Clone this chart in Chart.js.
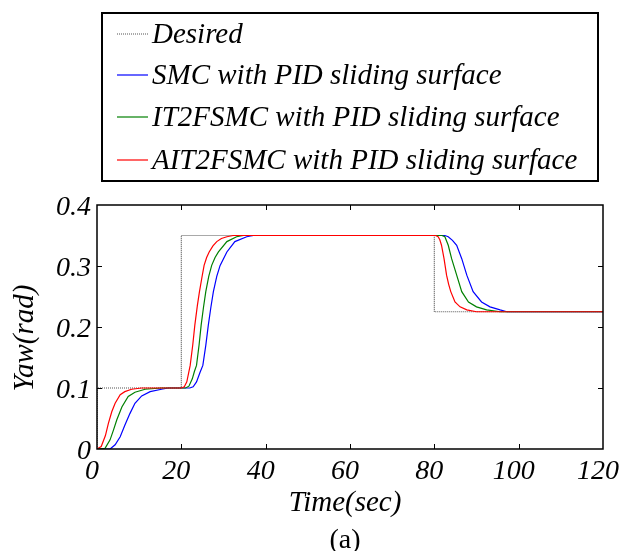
<!DOCTYPE html>
<html>
<head>
<meta charset="utf-8">
<script src="https://cdn.jsdelivr.net/npm/chart.js@4"></script>
<style>
  html, body { margin: 0; padding: 0; background: #fff; }
  #wrap { width: 620px; height: 551px; }
</style>
</head>
<body>
<div id="wrap"><canvas id="yawChart" width="620" height="551"></canvas></div>
<script>
// series, [time (sec), yaw (rad)]
const desired = [[0, 0], [0, 0.1], [20, 0.1], [20, 0.35], [80, 0.35], [80, 0.225], [120, 0.225]]

const smc = [
  [0, 0], [3.1, 0], [4.3, 0.007], [5.5, 0.02], [6.6, 0.039], [7.8, 0.058], [9, 0.075], [10.6, 0.087],
  [12.6, 0.094], [15.3, 0.098], [16.9, 0.1], [22, 0.1], [22.8, 0.102], [23.6, 0.11], [24.4, 0.125],
  [25.1, 0.137], [25.8, 0.17], [26.4, 0.203], [27, 0.232], [27.6, 0.258], [28.4, 0.283], [29.2, 0.301],
  [30.8, 0.323], [32.7, 0.34], [35.5, 0.348], [37.1, 0.35], [82.5, 0.35], [83.3, 0.348], [84.3, 0.342],
  [85.3, 0.334], [86.5, 0.312], [87.7, 0.285], [89.2, 0.258], [91.2, 0.241], [93.2, 0.233], [95.6, 0.228],
  [97.2, 0.225], [120, 0.225]
]

const it2fsmc = [
  [0, 0], [1.9, 0.001], [3.1, 0.015], [3.9, 0.031], [4.7, 0.048], [5.9, 0.069], [7.4, 0.086], [9, 0.093],
  [11.4, 0.098], [15.3, 0.1], [21, 0.1], [21.8, 0.103], [22.6, 0.115], [23.1, 0.127], [23.6, 0.137],
  [24.2, 0.17], [24.7, 0.203], [25.25, 0.232], [25.8, 0.258], [26.5, 0.283], [27.2, 0.301], [28, 0.314],
  [28.8, 0.323], [30.8, 0.34], [33.1, 0.348], [34.7, 0.35], [81.8, 0.35], [82.5, 0.348], [83.3, 0.334],
  [84.1, 0.312], [85.3, 0.285], [86.5, 0.258], [88.1, 0.241], [90, 0.233], [92.4, 0.228], [95.6, 0.225],
  [120, 0.225]
]

const ait2fsmc = [
  [0, 0], [1, 0.004], [2, 0.022], [2.7, 0.042], [3.5, 0.061], [4.3, 0.075], [5.5, 0.089], [6.6, 0.094],
  [8.2, 0.098], [10.6, 0.1], [20, 0.1], [20.7, 0.102], [21.3, 0.11], [22.1, 0.137], [22.7, 0.17],
  [23.2, 0.203], [23.8, 0.235], [24.3, 0.258], [24.9, 0.282], [25.4, 0.301], [26, 0.314], [26.6, 0.323],
  [27.5, 0.333], [28.4, 0.34], [29.5, 0.345], [30.8, 0.348], [32.3, 0.35], [80.3, 0.35], [80.9, 0.348],
  [81.3, 0.343], [81.7, 0.334], [82.3, 0.312], [82.9, 0.285], [83.4, 0.27], [83.9, 0.258], [84.9, 0.241],
  [86.1, 0.233], [87.7, 0.228], [90, 0.225], [120, 0.225]
]

const seriesLabels = ["Desired", "SMC with PID sliding surface", "IT2FSMC with PID sliding surface", "AIT2FSMC with PID sliding surface"]
const xTicks = [0, 20, 40, 60, 80, 100, 120]
const yTicks = [0, 0.1, 0.2, 0.3, 0.4]

const serif = "'Liberation Serif', 'Times New Roman', serif"
const toPoints = (arr) => arr.map(([x, y]) => ({ x, y }))

// matlab-like frame with inward ticks, axis titles, the boxed legend and the "(a)" caption
const framePlugin = {
  id: "frame",
  afterDatasetsDraw(chart) {
    const { ctx, chartArea: a, scales } = chart
    ctx.save()
    ctx.strokeStyle = "#000"
    ctx.lineWidth = 1.5
    ctx.strokeRect(a.left, a.top, a.right - a.left, a.bottom - a.top)
    ctx.lineWidth = 1
    ctx.beginPath()
    xTicks.slice(1, -1).forEach((v) => {
      const px = Math.round(scales.x.getPixelForValue(v)) + 0.5
      ctx.moveTo(px, a.bottom); ctx.lineTo(px, a.bottom - 5)
      ctx.moveTo(px, a.top); ctx.lineTo(px, a.top + 5)
    })
    yTicks.slice(1, -1).forEach((v) => {
      const py = Math.round(scales.y.getPixelForValue(v)) + 0.5
      ctx.moveTo(a.left, py); ctx.lineTo(a.left + 5, py)
      ctx.moveTo(a.right, py); ctx.lineTo(a.right - 5, py)
    })
    ctx.stroke()
    ctx.restore()
  },
  afterDraw(chart) {
    const { ctx } = chart
    ctx.save()
    ctx.fillStyle = "#000"
    ctx.textBaseline = "middle"

    // axis titles
    ctx.font = "italic 29px " + serif
    ctx.textAlign = "center"
    ctx.fillText("Time(sec)", 345, 503)
    ctx.save()
    ctx.translate(25, 338)
    ctx.rotate(-Math.PI / 2)
    ctx.fillText("Yaw(rad)", 0, 0)
    ctx.restore()

    // legend box
    ctx.strokeStyle = "#000"
    ctx.lineWidth = 2
    ctx.strokeRect(102, 13, 496, 168)
    ctx.textAlign = "left"
    const rows = [34, 75, 117, 160]
    chart.data.datasets.forEach((ds, i) => {
      ctx.strokeStyle = ds.borderColor
      ctx.lineWidth = 1.2
      ctx.setLineDash(ds.borderDash || [])
      ctx.beginPath()
      ctx.moveTo(117, rows[i])
      ctx.lineTo(148, rows[i])
      ctx.stroke()
      ctx.setLineDash([])
      ctx.fillText(ds.label, 152, rows[i] + 1)
    })

    // caption
    ctx.font = "28px " + serif
    ctx.textAlign = "center"
    ctx.fillText("(a)", 345, 541)
    ctx.restore()
  },
}

const yawChart = new Chart(document.getElementById("yawChart"), {
  type: "line",
  data: {
    datasets: [
      { label: seriesLabels[0], data: toPoints(desired), borderColor: "#555", borderDash: [1, 1], order: 4 },
      { label: seriesLabels[1], data: toPoints(smc), borderColor: "#0000ff", order: 3 },
      { label: seriesLabels[2], data: toPoints(it2fsmc), borderColor: "#008000", order: 2 },
      { label: seriesLabels[3], data: toPoints(ait2fsmc), borderColor: "#ff0000", order: 1 },
    ],
  },
  options: {
    responsive: false,
    animation: false,
    events: [],
    elements: {
      line: { borderWidth: 1.2, tension: 0, fill: false },
      point: { radius: 0 },
    },
    layout: { padding: { top: 205, right: 17, bottom: 0, left: 0 } },
    plugins: { legend: { display: false }, tooltip: { enabled: false } },
    scales: {
      x: {
        type: "linear",
        min: 0,
        max: 120,
        afterBuildTicks: (s) => { s.ticks = xTicks.map((v) => ({ value: v })) },
        afterFit: (s) => { s.height = 102; s.paddingLeft = 0; s.paddingRight = 0 },
        grid: { display: false, drawTicks: false },
        border: { display: false },
        ticks: { color: "#000", padding: 6, labelOffset: -5, maxRotation: 0, font: { family: serif, style: "italic", size: 28 } },
      },
      y: {
        type: "linear",
        min: 0,
        max: 0.4,
        afterBuildTicks: (s) => { s.ticks = yTicks.map((v) => ({ value: v })) },
        afterFit: (s) => { s.width = 97 },
        grid: { display: false, drawTicks: false },
        border: { display: false },
        ticks: {
          color: "#000",
          padding: 6,
          labelOffset: 3,
          font: { family: serif, style: "italic", size: 28 },
          callback: (v) => (v === 0 ? "0" : v.toFixed(1)),
        },
      },
    },
  },
  plugins: [framePlugin],
})
</script>
</body>
</html>
